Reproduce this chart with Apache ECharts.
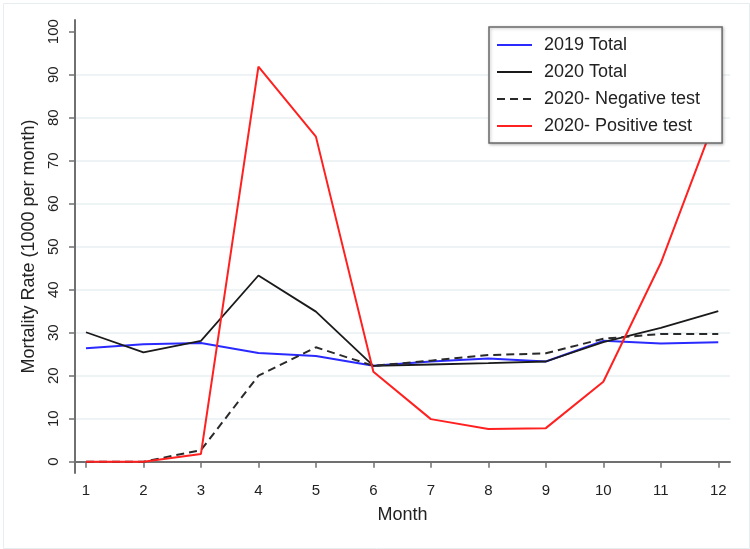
<!DOCTYPE html>
<html>
<head>
<meta charset="utf-8">
<script src="https://cdn.jsdelivr.net/npm/echarts@6/dist/echarts.min.js"></script>
<style>
html,body{margin:0;padding:0;background:#fff;}
#chart{width:750px;height:549px;}
</style>
</head>
<body>
<div id="chart"></div>
<script>
var months = [1,2,3,4,5,6,7,8,9,10,11,12];
var yTicks = [0,10,20,30,40,50,60,70,80,90,100];
var gridTicks = [0,10,20,30,40,50,60,70,80,90];
var total2019 = [26.4,27.3,27.6,25.3,24.6,22.3,23.3,24.0,23.3,28.1,27.5,27.8];
var total2020 = [30.1,25.4,28.1,43.3,34.9,22.3,22.6,22.9,23.3,27.8,31.1,35.0];
var negative2020 = [0,0,2.7,20.0,26.6,22.3,23.5,24.8,25.2,28.6,29.7,29.7];
var positive2020 = [0,0,1.8,91.9,75.6,20.9,9.9,7.6,7.8,18.6,46.2,81.6];
var seriesNames = ['2019 Total','2020 Total','2020- Negative test','2020- Positive test'];

function pairs(arr){ return months.map(function(m,i){ return [m, arr[i]]; }); }

var FONT = "'Liberation Sans', Arial, Helvetica, sans-serif";
var axisGray = '#707070';

var chart = echarts.init(document.getElementById('chart'), null, {renderer:'canvas'});
chart.setOption({
  animation:false,
  backgroundColor:'#ffffff',
  textStyle:{fontFamily:FONT},
  graphic:[{type:'rect', left:1, top:1, shape:{width:746, height:545}, style:{fill:'none', stroke:'#e6eef0', lineWidth:1}, z:-10}],
  grid:{left:75, right:20, top:20, bottom:76, containLabel:false},
  legend:{
    orient:'vertical', left:489, top:27, z:50,
    padding:[8,22,7,7],
    itemWidth:35, itemHeight:14, itemGap:7,
    itemStyle:{opacity:0},
    backgroundColor:'#ffffff', borderColor:'#6a6a6a', borderWidth:1.5,
    shadowColor:'rgba(0,0,0,0.25)', shadowBlur:3, shadowOffsetX:1, shadowOffsetY:1,
    textStyle:{fontFamily:FONT, fontSize:18, color:'#222', lineHeight:20, padding:[0,0,0,7]},
    data:seriesNames
  },
  xAxis:{
    type:'value', min:0.809, max:12.204,
    name:'Month', nameLocation:'middle', nameGap:33,
    nameTextStyle:{fontFamily:FONT, fontSize:18, color:'#222'},
    axisLine:{show:true, lineStyle:{color:axisGray, width:2}},
    axisTick:{show:true, length:6, customValues:months, lineStyle:{color:axisGray, width:1.5}},
    axisLabel:{customValues:months, fontFamily:FONT, fontSize:15, color:'#222', margin:10},
    splitLine:{show:false}
  },
  yAxis:[{
    type:'value', min:-2.63, max:102.72,
    name:'Mortality Rate (1000 per month)', nameLocation:'middle', nameGap:30,
    nameTextStyle:{fontFamily:FONT, fontSize:18, color:'#222'},
    axisLine:{show:true, lineStyle:{color:axisGray, width:2}},
    axisTick:{show:true, length:6, customValues:yTicks, lineStyle:{color:axisGray, width:1.5}},
    axisLabel:{customValues:yTicks, rotate:90, fontFamily:FONT, fontSize:15, color:'#222', margin:14},
    splitLine:{show:false}
  },{
    type:'value', min:-2.63, max:102.72, position:'left',
    axisLine:{show:false},
    axisTick:{show:false, customValues:gridTicks},
    axisLabel:{show:false, customValues:gridTicks},
    splitLine:{show:true, lineStyle:{color:'#e9f1f3', width:1.5}}
  }],
  series:[
    {name:seriesNames[0], type:'line', data:pairs(total2019), symbol:'none', showSymbol:false,
     lineStyle:{color:'#2a2aff', width:2}, itemStyle:{color:'#2a2aff'}, z:3},
    {name:seriesNames[1], type:'line', data:pairs(total2020), symbol:'none', showSymbol:false,
     lineStyle:{color:'#1a1a1a', width:1.8}, itemStyle:{color:'#1a1a1a'}, z:4},
    {name:seriesNames[2], type:'line', data:pairs(negative2020), symbol:'none', showSymbol:false,
     lineStyle:{color:'#2a2a2a', width:2, type:[8,5]}, itemStyle:{color:'#2a2a2a'}, z:5},
    {name:seriesNames[3], type:'line', data:pairs(positive2020), symbol:'none', showSymbol:false,
     lineStyle:{color:'#ff2020', width:2}, itemStyle:{color:'#ff2020'}, z:6}
  ]
});
</script>
</body>
</html>
